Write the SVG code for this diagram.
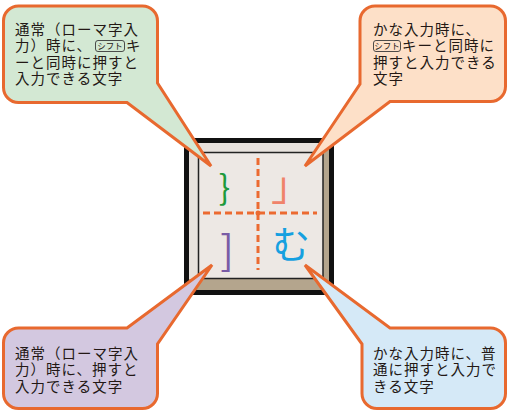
<svg xmlns="http://www.w3.org/2000/svg" width="509" height="413" viewBox="0 0 509 413">
<style>
.bub{stroke:#e8692f;stroke-width:3;stroke-linejoin:miter}
.t{font-family:"Liberation Sans","Noto Sans CJK JP",sans-serif;font-size:14.5px;letter-spacing:1px;fill:#231815}
.ik{fill:none;stroke:#3a3a3a;stroke-width:0.9}
.it{font-family:"Liberation Sans","Noto Sans CJK JP",sans-serif;font-size:8.5px;fill:#231815;text-anchor:middle}
.dash{stroke:#ec6a30;stroke-width:3;stroke-dasharray:7 4;fill:none}
.ch{font-family:"Noto Sans CJK JP","Noto Sans",sans-serif;text-anchor:middle}
</style>
<rect width="509" height="413" fill="#ffffff"/>
<g id="key">
  <rect x="186.5" y="140.5" width="145" height="152" fill="#b4a58d" stroke="#111" stroke-width="5"/>
  <rect x="189" y="143" width="134" height="136" fill="#e7e2dd"/>
  <rect x="198.5" y="152.5" width="124.5" height="126" fill="#ede8e4" stroke="#222" stroke-width="1.5"/>
  <line class="dash" x1="258" y1="158" x2="258" y2="270"/>
  <line class="dash" x1="203" y1="213" x2="317" y2="213"/>
  <circle cx="258" cy="213" r="2.5" fill="#ec6a30"/>
  <text class="ch" x="224.5" y="200" font-size="34" fill="#1e9a3c">}</text>
  <text class="ch" x="291" y="200" font-size="40" fill="#f0836a">」</text>
  <text class="ch" x="227" y="265" font-size="40" fill="#7a5ca6">]</text>
  <text class="ch" x="291" y="258" font-size="38" fill="#16a0e0">む</text>
</g>
<g id="bubble-tl">
  <path class="bub" fill="#d3e8d3" d="M18.5,6 H142.5 A15,15 0 0 1 157.5,21 V83 L211,166 L127,102.5 H18.5 A15,15 0 0 1 3.5,87.5 V21 A15,15 0 0 1 18.5,6 Z"/>
  <text class="t" x="15" y="34.5">通常（ローマ字入</text>
  <text class="t" x="15" y="51">力）時に、</text>
  <rect class="ik" x="95.5" y="40.5" width="29" height="11" rx="2.5"/>
  <text class="it" x="110" y="49">シフト</text>
  <text class="t" x="126" y="51">キ</text>
  <text class="t" x="15" y="67.5">ーと同時に押すと</text>
  <text class="t" x="15" y="84">入力できる文字</text>
</g>
<g id="bubble-tr">
  <path class="bub" fill="#fde0c8" d="M375,6 H490.5 A15,15 0 0 1 505.5,21 V86.5 A15,15 0 0 1 490.5,101.5 H390 L305,166 L360,84 V21 A15,15 0 0 1 375,6 Z"/>
  <text class="t" x="373" y="34.5" letter-spacing="2.5">かな入力時に、</text>
  <rect class="ik" x="373.5" y="40.5" width="27" height="11" rx="2.5"/>
  <text class="it" x="387" y="49">シフト</text>
  <text class="t" x="402" y="51">キーと同時に</text>
  <text class="t" x="373" y="67.5">押すと入力できる</text>
  <text class="t" x="373" y="84">文字</text>
</g>
<g id="bubble-bl">
  <path class="bub" fill="#d3c8e0" d="M18.5,328 H127 L212,265 L157.5,344 V393.5 A15,15 0 0 1 142.5,408.5 H18.5 A15,15 0 0 1 3.5,393.5 V343 A15,15 0 0 1 18.5,328 Z"/>
  <text class="t" x="15" y="358.5">通常（ローマ字入</text>
  <text class="t" x="15" y="375">力）時に、押すと</text>
  <text class="t" x="15" y="391.5">入力できる文字</text>
</g>
<g id="bubble-br">
  <path class="bub" fill="#d5e9f7" d="M390,328 H490.5 A15,15 0 0 1 505.5,343 V393.5 A15,15 0 0 1 490.5,408.5 H377 A15,15 0 0 1 362,393.5 V344 L305,265 Z"/>
  <text class="t" x="373" y="358.5">かな入力時に、普</text>
  <text class="t" x="373" y="375">通に押すと入力で</text>
  <text class="t" x="373" y="391.5">きる文字</text>
</g>
<g id="connectors"></g>
</svg>
